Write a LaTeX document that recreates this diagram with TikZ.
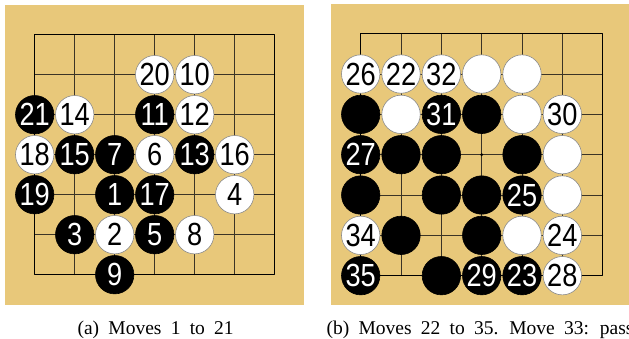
\documentclass[tikz,border=0pt]{standalone}
\usepackage{fontspec}
\setmainfont{Liberation Serif}[WordSpace=1.9]
\newfontfamily\stonefont[FakeStretch=0.85]{Liberation Sans}
\definecolor{BoardTan}{HTML}{E8C87A}
\definecolor{GridLine}{HTML}{3B3426}
\definecolor{StoneEdge}{HTML}{8A8A8A}
\tikzset{
  stone/.style={circle,minimum size=38.4pt,inner sep=-4pt,line width=0.6pt,
    font=\stonefont\fontsize{32}{32}\selectfont},
  bstone/.style={stone,fill=black,draw=black,text=white},
  wstone/.style={stone,fill=white,draw=StoneEdge,text=black},
  gridline/.style={GridLine,line width=0.7pt},
  frameline/.style={black,line width=1.2pt},
  caption/.style={anchor=base west,font=\fontsize{19.5}{21}\selectfont},
}

\begin{document}
\begin{tikzpicture}[x=1pt,y=-1pt,line cap=round,line join=round]
  \clip (0,0) rectangle (629,339);
  \fill[white] (0,0) rectangle (629,339);
  % (a) moves 1 to 21
  \fill[BoardTan] (5,5) rectangle (304,305);
  \begin{scope}[shift={(34.7,34.7)},x=40pt,y=-40pt]
    \foreach \i in {1,...,5}{\draw[gridline] (\i,0) -- (\i,6); \draw[gridline] (0,\i) -- (6,\i);}
    \draw[frameline] (0,0) rectangle (6,6);
    \foreach \c/\r/\n in {3/1/20,4/1/10,1/2/14,4/2/12,0/3/18,3/3/6,5/3/16,5/4/4,2/5/2,4/5/8}
      \node[wstone] (a-\c-\r) at (\c,\r) {\n};
    \foreach \c/\r/\n in {0/2/21,3/2/11,1/3/15,2/3/7,4/3/13,0/4/19,2/4/1,3/4/17,1/5/3,3/5/5,2/6/9}
      \node[bstone] (a-\c-\r) at (\c,\r) {\n};
  \end{scope}
  \node[caption] (capA) at (74,334) {(a) Moves 1 to 21};
  % (b) moves 22 to 35
  \fill[BoardTan] (331,4) rectangle (629,305);
  \begin{scope}[shift={(360.7,33.7)},x=40.33pt,y=-40.33pt]
    \foreach \i in {1,...,5}{\draw[gridline] (\i,0) -- (\i,6); \draw[gridline] (0,\i) -- (6,\i);}
    \draw[frameline] (0,0) rectangle (6,6);
    \fill[black] (3,3) circle (1.6pt);
    \foreach \c/\r/\n in {0/1/26,1/1/22,2/1/32,5/2/30,0/5/34,5/5/24,5/6/28}
      \node[wstone] (b-\c-\r) at (\c,\r) {\n};
    \foreach \c/\r in {3/1,4/1,1/2,4/2,5/3,5/4,4/5}
      \node[wstone] (b-\c-\r) at (\c,\r) {};
    \foreach \c/\r/\n in {2/2/31,0/3/27,4/4/25,0/6/35,3/6/29,4/6/23}
      \node[bstone] (b-\c-\r) at (\c,\r) {\n};
    \foreach \c/\r in {0/2,3/2,1/3,2/3,4/3,0/4,2/4,3/4,1/5,3/5,2/6}
      \node[bstone] (b-\c-\r) at (\c,\r) {};
  \end{scope}
  \node[caption] (capB) at (323,334) {(b) Moves 22 to 35. Move 33: pass};
\end{tikzpicture}
\end{document}
